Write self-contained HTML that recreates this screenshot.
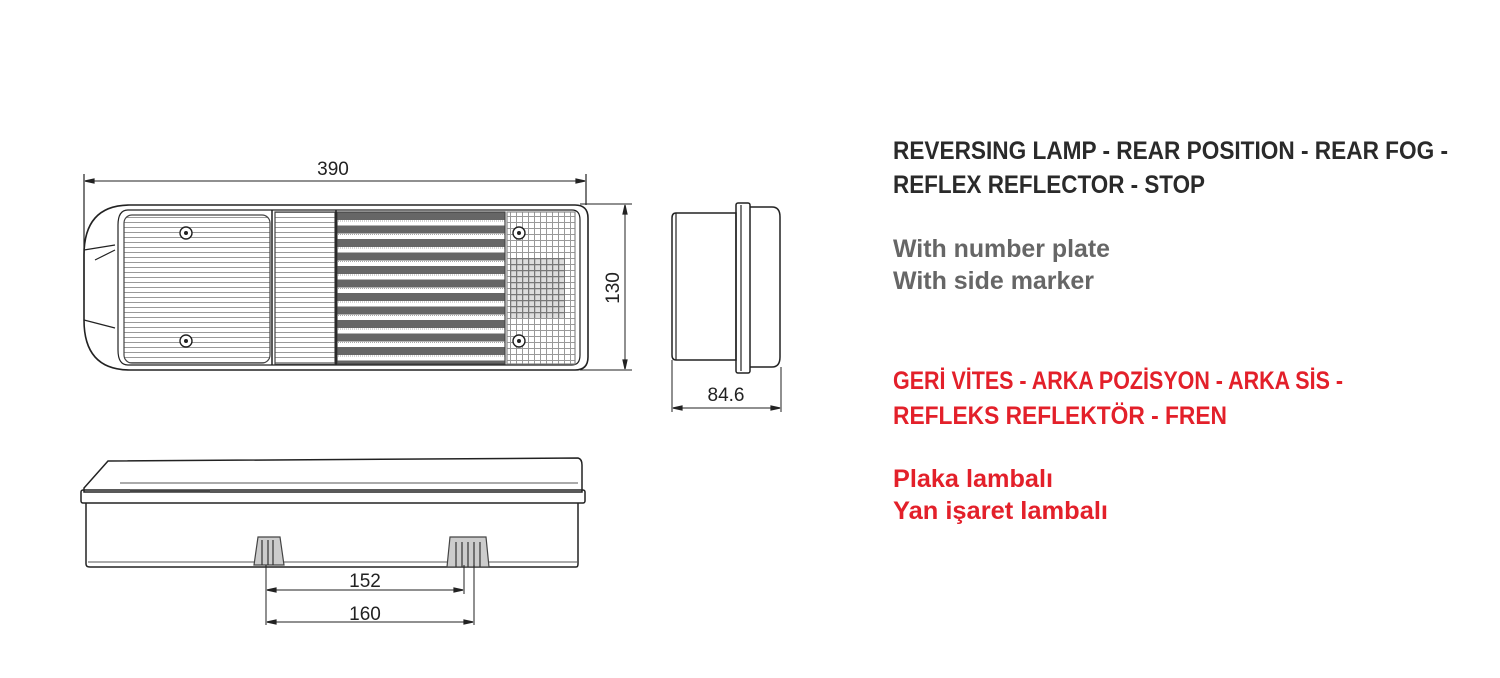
<!DOCTYPE html>
<html><head><meta charset="utf-8"><style>
html,body{margin:0;padding:0;background:#fff;}
svg{display:block}
text{font-family:"Liberation Sans Narrow","Liberation Sans","Noto Sans CJK SC",sans-serif;}
</style></head><body>
<svg width="1500" height="678" viewBox="0 0 1500 678" xmlns="http://www.w3.org/2000/svg">
<defs>
<pattern id="hl" width="10" height="5" patternUnits="userSpaceOnUse"><rect width="10" height="5" fill="#fff"/><line x1="0" y1="2.5" x2="10" y2="2.5" stroke="#999" stroke-width="1"/></pattern>
<pattern id="st" width="10" height="13.5" patternUnits="userSpaceOnUse" y="212"><rect width="10" height="13.5" fill="#fff"/><rect y="0" width="10" height="8" fill="#666"/><line x1="0" y1="9" x2="10" y2="9" stroke="#aaa" stroke-width="1" stroke-dasharray="1 1"/></pattern>
<pattern id="gr" width="6" height="6" patternUnits="userSpaceOnUse"><rect width="6" height="6" fill="#fff"/><path d="M0 0.5H6M0.5 0V6" stroke="#999" stroke-width="1"/></pattern>
<pattern id="gr2" width="6" height="6" patternUnits="userSpaceOnUse"><rect width="6" height="6" fill="#ddd"/><path d="M0 0.5H6M0.5 0V6" stroke="#777" stroke-width="1.5"/></pattern>
</defs>
<g stroke="#222" fill="none" stroke-width="1.2">
<line x1="84" y1="174" x2="84" y2="300"/><line x1="586" y1="174" x2="586" y2="205"/>
<line x1="85" y1="181" x2="585" y2="181" stroke-width="1"/>
<path d="M85 181l9-2v4zM585 181l-9-2v4z" fill="#222"/>
<path d="M130 205H575Q588 205 588 218V357Q588 370 575 370H130Q84 370 84 320V255Q84 205 130 205Z" stroke-width="1.6"/>
<path d="M128 210H572Q580 210 580 220V355Q580 365 572 365H128Q118 365 118 350V225Q118 210 128 210Z"/>
<path d="M84 250L115 245M84 320L115 328M95 260L115 250"/>
<rect x="124" y="215" width="146" height="148" rx="8" fill="url(#hl)" stroke="#444"/>
<rect x="275" y="212" width="60" height="152" fill="url(#hl)" stroke="#444"/>
<rect x="337" y="212" width="168" height="152" fill="url(#st)" stroke="#444"/>
<rect x="507" y="212" width="68" height="152" fill="url(#gr)" stroke="#888"/>
<rect x="510" y="258" width="55" height="60" fill="url(#gr2)" stroke="none"/>
<line x1="272" y1="210" x2="272" y2="365" stroke-width="1.5"/>
<line x1="336" y1="210" x2="336" y2="365" stroke-width="1.5"/>
<g fill="#fff" stroke="#222" stroke-width="1.4">
<circle cx="186" cy="233" r="6"/><circle cx="186" cy="341" r="6"/><circle cx="519" cy="233" r="6"/><circle cx="519" cy="341" r="6"/></g>
<g fill="#222" stroke="none"><circle cx="186" cy="233" r="2"/><circle cx="186" cy="341" r="2"/><circle cx="519" cy="233" r="2"/><circle cx="519" cy="341" r="2"/></g>
<line x1="580" y1="204" x2="632" y2="204" stroke-width="1"/><line x1="580" y1="370" x2="632" y2="370" stroke-width="1"/>
<line x1="625" y1="205" x2="625" y2="369" stroke-width="1"/>
<path d="M625 205l-2 9h4zM625 369l-2-9h4z" fill="#222"/>
<path d="M676 213H736V360H676Q672 360 672 355V218Q672 213 676 213Z" stroke-width="1.5"/>
<line x1="676" y1="213" x2="676" y2="360"/>
<rect x="736" y="203" width="14" height="170" rx="2" stroke-width="1.5"/>
<line x1="741" y1="205" x2="741" y2="371"/>
<path d="M750 207H772Q780 207 780 217V357Q780 367 772 367H750" stroke-width="1.5"/>
<line x1="672" y1="360" x2="672" y2="412" stroke-width="1"/><line x1="781" y1="367" x2="781" y2="412" stroke-width="1"/>
<line x1="673" y1="408" x2="780" y2="408" stroke-width="1"/>
<path d="M673 408l9-2v4zM780 408l-9-2v4z" fill="#222"/>
<path d="M108 461L578 458Q582 459 582 465V492H84V488Z" stroke-width="1.5"/>
<rect x="81" y="490" width="504" height="13" rx="2" stroke-width="1.5"/>
<line x1="120" y1="483" x2="578" y2="483" stroke="#777"/>
<line x1="130" y1="491" x2="210" y2="491" stroke="#444" stroke-width="3"/>
<path d="M86 503V564Q86 567 90 567H576Q578 567 578 564V503" stroke-width="1.5"/>
<line x1="88" y1="562" x2="577" y2="562" stroke="#777"/>
<path d="M258 537H280L284 565H254Z" fill="#ccc" stroke="#444"/>
<path d="M262 540V565M268 540V565M273 540V565" stroke="#333"/>
<path d="M450 537H486L489 567H447Z" fill="#ccc" stroke="#444"/>
<path d="M456 542V567M462 542V567M468 542V567M474 542V567M480 542V567" stroke="#333"/>
<line x1="266" y1="565" x2="266" y2="625" stroke-width="1"/>
<line x1="464" y1="565" x2="464" y2="594" stroke-width="1"/>
<line x1="474" y1="565" x2="474" y2="625" stroke-width="1"/>
<line x1="267" y1="590" x2="463" y2="590" stroke-width="1"/>
<path d="M267 590l9-2v4zM463 590l-9-2v4z" fill="#222"/>
<line x1="267" y1="622" x2="473" y2="622" stroke-width="1"/>
<path d="M267 622l9-2v4zM473 622l-9-2v4z" fill="#222"/>
</g>
<g fill="#222" font-size="19">
<text x="333" y="175" text-anchor="middle">390</text>
<text x="726" y="401" text-anchor="middle">84.6</text>
<text x="365" y="587" text-anchor="middle">152</text>
<text x="365" y="620" text-anchor="middle">160</text>
<text transform="translate(619,288) rotate(-90)" text-anchor="middle">130</text>
</g>
<g font-size="25" font-weight="bold">
<text x="893" y="159" fill="#2a2a2a" textLength="555" lengthAdjust="spacingAndGlyphs">REVERSING LAMP - REAR POSITION - REAR FOG -</text>
<text x="893" y="193" fill="#2a2a2a" textLength="312" lengthAdjust="spacingAndGlyphs">REFLEX REFLECTOR - STOP</text>
<text x="893" y="257" fill="#666" textLength="217" lengthAdjust="spacingAndGlyphs">With number plate</text>
<text x="893" y="289" fill="#666" textLength="201" lengthAdjust="spacingAndGlyphs">With side marker</text>
<text x="893" y="389" fill="#e3202a" textLength="450" lengthAdjust="spacingAndGlyphs">GERİ VİTES - ARKA POZİSYON - ARKA SİS  -</text>
<text x="893" y="424" fill="#e3202a" textLength="334" lengthAdjust="spacingAndGlyphs">REFLEKS REFLEKTÖR - FREN</text>
<text x="893" y="487" fill="#e3202a" textLength="160" lengthAdjust="spacingAndGlyphs">Plaka lambalı</text>
<text x="893" y="519" fill="#e3202a" textLength="215" lengthAdjust="spacingAndGlyphs">Yan işaret lambalı</text>
</g>
</svg>
</body></html>
